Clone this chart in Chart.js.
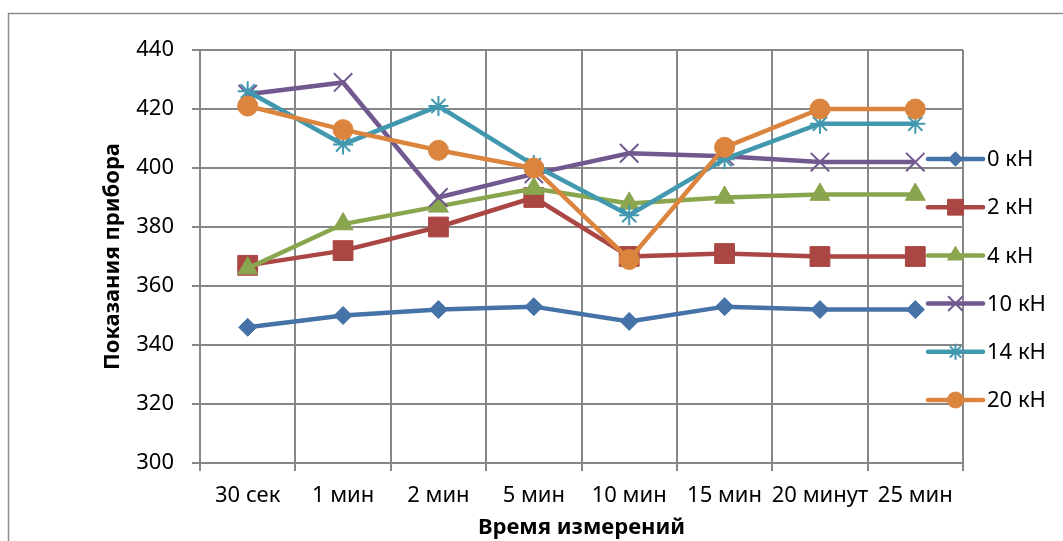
<!DOCTYPE html>
<html>
<head>
<meta charset="utf-8">
<script src="https://cdn.jsdelivr.net/npm/chart.js@4/dist/chart.umd.min.js"></script>
<style>
  html, body { margin: 0; padding: 0; background: #ffffff; }
  #wrap { width: 1063px; height: 541px; position: relative; }
</style>
</head>
<body>
<div id="wrap"><canvas id="c"></canvas></div>
<script>
// Measurement times (x categories)
const categories = ['30 сек', '1 мин', '2 мин', '5 мин', '10 мин', '15 мин', '20 минут', '25 мин'];

// Instrument readings for each load
const load0kN  = [346, 350, 352, 353, 348, 353, 352, 352];
const load2kN  = [367, 372, 380, 390, 370, 371, 370, 370];
const load4kN  = [366, 381, 387, 393, 388, 390, 391, 391];
const load10kN = [425, 429, 390, 398, 405, 404, 402, 402];
const load14kN = [426, 408, 421, 401, 384, 403, 415, 415];
const load20kN = [421, 413, 406, 400, 369, 407, 420, 420];

const seriesNames = ['0 кН', '2 кН', '4 кН', '10 кН', '14 кН', '20 кН'];
const seriesValues = [load0kN, load2kN, load4kN, load10kN, load14kN, load20kN];

// Y axis range and step
const yMin = 300, yMax = 440, yStep = 20;

const colors  = ['#4572A7', '#AA4643', '#89A54E', '#71588F', '#4198AF', '#DB843D'];
const markers = ['rectRot', 'rect', 'triangle', 'crossRot', 'star', 'circle'];
const radii   = [9, 14, 11.5, 13, 10, 10];

const FONT = "'Noto Sans', 'Liberation Sans', sans-serif";
const GRID = '#878787';

const datasets = seriesValues.map((vals, i) => ({
  label: seriesNames[i],
  data: vals,
  borderColor: colors[i],
  backgroundColor: colors[i],
  borderWidth: 4.5,
  pointStyle: markers[i],
  pointRadius: radii[i],
  pointHoverRadius: radii[i],
  pointBackgroundColor: colors[i],
  pointBorderColor: colors[i],
  pointBorderWidth: (markers[i] === 'crossRot' || markers[i] === 'star') ? 2 : 1,
  tension: 0,
  fill: false,
  order: seriesValues.length - i
}));

// Thin gray frame around the whole chart
const framePlugin = {
  id: 'frame',
  beforeDraw(chart) {
    const ctx = chart.ctx;
    ctx.save();
    ctx.fillStyle = '#ffffff';
    ctx.fillRect(0, 0, chart.width, chart.height);
    ctx.strokeStyle = '#8c8c8c';
    ctx.lineWidth = 1.5;
    ctx.strokeRect(8.5, 13.5, chart.width + 20, chart.height + 20);
    ctx.restore();
  }
};

// Legend on the right, partly over the plot area
const sideLegend = {
  id: 'sideLegend',
  afterDatasetsDraw(chart) {
    const ctx = chart.ctx;
    const area = chart.chartArea;
    const x0 = area.right - 35, x1 = area.right + 20, xm = (x0 + x1) / 2;
    const top = 159, gap = 48.2;
    ctx.save();
    chart.data.datasets.forEach((ds, i) => {
      const y = top + i * gap;
      ctx.strokeStyle = ds.borderColor;
      ctx.lineWidth = 4.5;
      ctx.lineCap = 'round';
      ctx.beginPath();
      ctx.moveTo(x0, y);
      ctx.lineTo(x1, y);
      ctx.stroke();
      ctx.lineCap = 'butt';
      ctx.fillStyle = ds.pointBackgroundColor;
      ctx.strokeStyle = ds.pointBorderColor;
      ctx.lineWidth = ds.pointBorderWidth;
      const r = ds.pointRadius * 0.8;
      Chart.helpers.drawPoint(ctx, { pointStyle: ds.pointStyle, radius: r, rotation: 0, borderWidth: ds.pointBorderWidth }, xm, y);
      ctx.fillStyle = '#000000';
      ctx.font = '22px ' + FONT;
      ctx.textAlign = 'left';
      ctx.textBaseline = 'middle';
      ctx.fillText(ds.label, x1 + 4, y + 1);
    });
    ctx.restore();
  }
};

new Chart(document.getElementById('c'), {
  type: 'line',
  data: { labels: categories, datasets },
  plugins: [framePlugin, sideLegend],
  options: {
    responsive: true,
    maintainAspectRatio: false,
    animation: false,
    events: [],
    layout: { padding: { left: 0, top: 50, right: 100, bottom: 0 } },
    plugins: {
      legend: { display: false },
      tooltip: { enabled: false },
      title: { display: false }
    },
    scales: {
      x: {
        type: 'category',
        offset: true,
        grid: { offset: true, color: GRID, lineWidth: 2, drawTicks: true, tickLength: 8, tickColor: GRID },
        border: { color: GRID, width: 2 },
        ticks: { color: '#000000', font: { family: FONT, size: 22 }, padding: 12, maxRotation: 0, autoSkip: false },
        title: {
          display: true, text: 'Время измерений', color: '#000000',
          font: { family: FONT, size: 22, weight: 'bold' },
          padding: { top: 0, bottom: 0 }
        },
        afterFit(scale) { scale.height = 78; }
      },
      y: {
        min: yMin, max: yMax,
        grid: { color: GRID, lineWidth: 2, drawTicks: true, tickLength: 8, tickColor: GRID },
        border: { color: GRID, width: 2 },
        ticks: { stepSize: yStep, color: '#000000', font: { family: FONT, size: 22 }, padding: 18 },
        title: {
          display: true, text: 'Показания прибора', color: '#000000',
          font: { family: FONT, size: 22, weight: 'bold' },
          padding: { top: 100, bottom: 0 }
        },
        afterFit(scale) { scale.width = 200; }
      }
    }
  }
});
</script>
</body>
</html>
